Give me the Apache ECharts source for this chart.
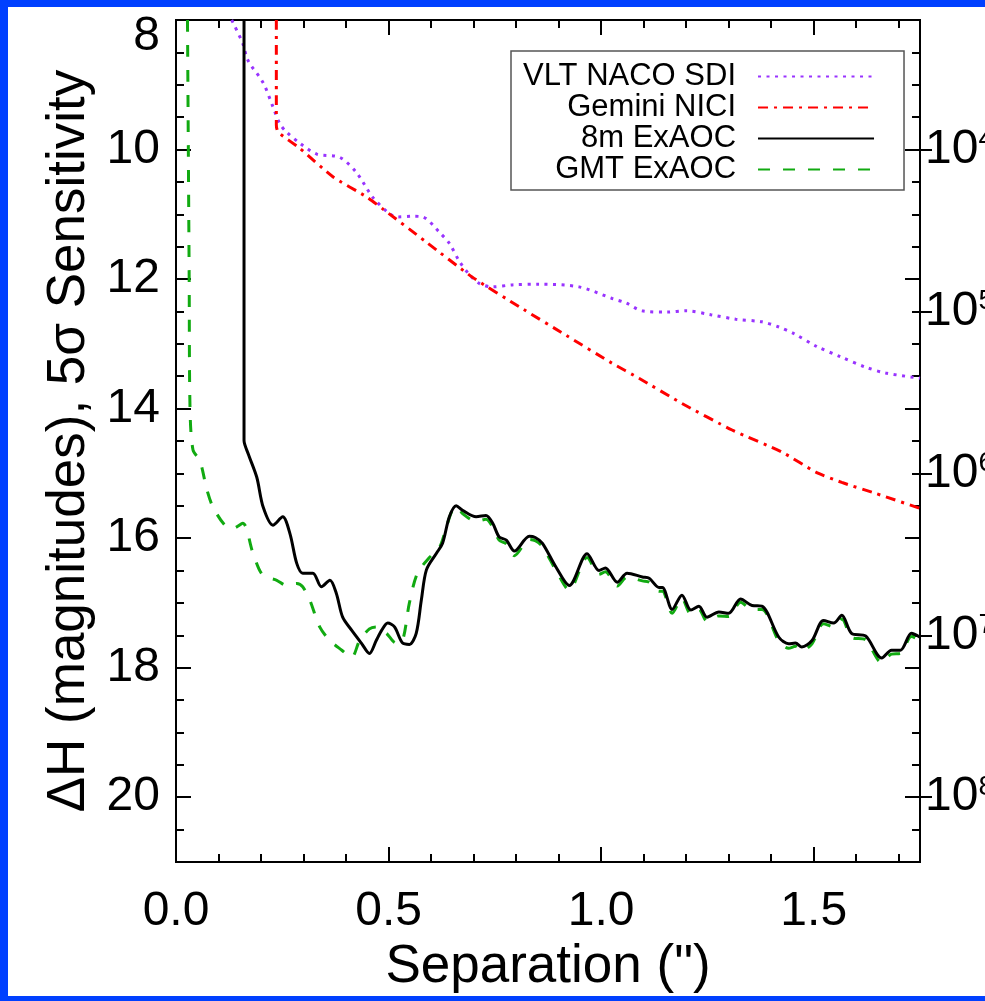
<!DOCTYPE html>
<html lang="en">
<head>
    <meta charset="UTF-8">
    <title>Contrast curves</title>
    <script src="https://cdn.jsdelivr.net/npm/echarts@6/dist/echarts.min.js"></script>
    <style>
        html, body { margin: 0; background: #fff; overflow: hidden; }
        body { width: 985px; height: 1001px; position: relative; }
        #main { position: absolute; left: 8px; top: 7px; width: 990px; height: 989px; background: #fff; }
        .edge { position: absolute; background: #0040ff; }
    </style>
</head>
<body>
<div id="main"></div>
<div class="edge" style="left:0;top:0;width:1000px;height:7px;"></div>
<div class="edge" style="left:0;top:0;width:8px;height:1001px;"></div>
<div class="edge" style="left:0;top:996px;width:1000px;height:5px;"></div>
<script>
    // separation in arcsec, delta H in magnitudes
    const nacoX = [0.131, 0.157, 0.169, 0.205, 0.228, 0.244, 0.260, 0.291, 0.331, 0.385, 0.425, 0.462, 0.502, 0.521, 0.556, 0.580, 0.620, 0.643, 0.667, 0.690, 0.714, 0.744, 0.791, 0.854, 0.948, 1.026, 1.059, 1.096, 1.155, 1.200, 1.258, 1.317, 1.378, 1.418, 1.453, 1.507, 1.563, 1.622, 1.669, 1.750];
    const nacoY = [8.00, 8.36, 8.62, 8.97, 9.34, 9.60, 9.73, 9.90, 10.07, 10.12, 10.36, 10.73, 10.99, 11.04, 11.03, 11.04, 11.28, 11.45, 11.73, 11.93, 12.07, 12.12, 12.09, 12.08, 12.12, 12.30, 12.37, 12.49, 12.51, 12.49, 12.55, 12.62, 12.66, 12.74, 12.84, 13.04, 13.20, 13.36, 13.45, 13.53];

    const niciX = [0.236, 0.236, 0.240, 0.291, 0.369, 0.448, 0.487, 0.589, 0.697, 0.808, 0.918, 1.026, 1.089, 1.190, 1.308, 1.425, 1.505, 1.566, 1.646, 1.750];
    const niciY = [8.00, 9.62, 9.73, 9.98, 10.42, 10.73, 10.92, 11.43, 11.97, 12.43, 12.87, 13.30, 13.53, 13.92, 14.33, 14.67, 14.98, 15.14, 15.31, 15.54];

    const exaocX = [0.160, 0.160, 0.170, 0.190, 0.205, 0.228, 0.251, 0.268, 0.284, 0.298, 0.322, 0.342, 0.362, 0.377, 0.392, 0.413, 0.436, 0.455, 0.471, 0.484, 0.498, 0.514, 0.533, 0.549, 0.565, 0.577, 0.589, 0.613, 0.627, 0.643, 0.659, 0.674, 0.706, 0.729, 0.745, 0.760, 0.777, 0.796, 0.831, 0.845, 0.862, 0.894, 0.925, 0.967, 0.995, 1.010, 1.038, 1.061, 1.097, 1.113, 1.136, 1.144, 1.167, 1.190, 1.211, 1.230, 1.249, 1.277, 1.300, 1.328, 1.355, 1.378, 1.418, 1.441, 1.457, 1.472, 1.496, 1.523, 1.547, 1.566, 1.589, 1.622, 1.660, 1.683, 1.704, 1.730, 1.750];
    const exaocY = [8.00, 14.49, 14.70, 15.06, 15.52, 15.80, 15.67, 15.93, 16.39, 16.54, 16.54, 16.75, 16.65, 16.85, 17.22, 17.42, 17.62, 17.78, 17.58, 17.42, 17.31, 17.37, 17.62, 17.64, 17.47, 16.96, 16.49, 16.23, 16.08, 15.67, 15.50, 15.57, 15.67, 15.65, 15.77, 15.98, 16.03, 16.20, 15.97, 15.99, 16.08, 16.45, 16.73, 16.24, 16.50, 16.46, 16.68, 16.54, 16.60, 16.62, 16.76, 16.76, 17.10, 16.88, 17.11, 17.05, 17.22, 17.14, 17.16, 16.94, 17.04, 17.05, 17.53, 17.63, 17.62, 17.68, 17.58, 17.27, 17.31, 17.19, 17.47, 17.51, 17.85, 17.73, 17.73, 17.47, 17.53];

    const gmtX = [0.027, 0.029, 0.031, 0.033, 0.040, 0.056, 0.073, 0.087, 0.115, 0.134, 0.157, 0.181, 0.204, 0.237, 0.260, 0.284, 0.298, 0.315, 0.338, 0.362, 0.390, 0.413, 0.432, 0.455, 0.471, 0.495, 0.518, 0.533, 0.549, 0.568, 0.596, 0.620, 0.636, 0.650, 0.662, 0.674, 0.706, 0.729, 0.745, 0.760, 0.777, 0.796, 0.831, 0.845, 0.862, 0.894, 0.925, 0.967, 0.995, 1.010, 1.038, 1.061, 1.097, 1.113, 1.136, 1.144, 1.167, 1.190, 1.211, 1.230, 1.249, 1.277, 1.300, 1.328, 1.355, 1.378, 1.418, 1.441, 1.457, 1.472, 1.496, 1.523, 1.547, 1.566, 1.589, 1.622, 1.660, 1.683, 1.704, 1.730, 1.750];
    const gmtY = [8.00, 10.00, 12.00, 14.00, 14.64, 14.80, 15.26, 15.52, 15.80, 15.85, 15.77, 16.23, 16.57, 16.65, 16.73, 16.70, 16.75, 16.96, 17.37, 17.58, 17.73, 17.84, 17.58, 17.40, 17.37, 17.47, 17.62, 17.58, 17.00, 16.54, 16.30, 16.14, 15.83, 15.57, 15.52, 15.62, 15.74, 15.71, 15.83, 16.03, 16.09, 16.27, 16.02, 16.04, 16.13, 16.50, 16.80, 16.30, 16.56, 16.52, 16.74, 16.60, 16.66, 16.68, 16.82, 16.82, 17.16, 16.93, 17.17, 17.10, 17.28, 17.20, 17.21, 16.99, 17.10, 17.10, 17.59, 17.70, 17.67, 17.74, 17.63, 17.32, 17.37, 17.25, 17.53, 17.57, 17.92, 17.79, 17.78, 17.52, 17.58];

    // axes
    const xMajor = [0, 0.5, 1.0, 1.5];
    const xMinor = [0.1, 0.2, 0.3, 0.4, 0.6, 0.7, 0.8, 0.9, 1.1, 1.2, 1.3, 1.4, 1.6, 1.7];
    const yMajor = [8, 10, 12, 14, 16, 18, 20];
    const yMinor = [8.5, 9, 9.5, 10.5, 11, 11.5, 12.5, 13, 13.5, 14.5, 15, 15.5, 16.5, 17, 17.5, 18.5, 19, 19.5, 20.5];
    const contrastMag = [10, 12.5, 15, 17.5, 20];
    const contrastExp = ['4', '5', '6', '7', '8'];

    const FONT = 'Liberation Sans';

    function zip(xs, ys) {
        return xs.map((x, i) => [x, ys[i]]);
    }

    function xAx(pos, ticks, len, label) {
        return {
            type: 'value', position: pos, min: 0, max: 1.75,
            axisLine: {show: true, onZero: false, lineStyle: {color: '#000', width: 2}},
            axisTick: {show: true, inside: true, length: len, customValues: ticks, lineStyle: {color: '#000', width: 2}},
            axisLabel: label ? {
                show: true, customValues: xMajor, margin: 26, fontSize: 48, fontFamily: FONT, color: '#000',
                formatter: v => v.toFixed(1)
            } : {show: false},
            splitLine: {show: false}
        };
    }

    function yAx(pos, ticks, len, inside) {
        return {
            type: 'value', position: pos, min: 8, max: 21, inverse: true,
            axisLine: {show: true, onZero: false, lineStyle: {color: '#000', width: 2}},
            axisTick: {show: true, inside: inside, length: len, customValues: ticks, lineStyle: {color: '#000', width: 2}},
            axisLabel: {show: false},
            splitLine: {show: false}
        };
    }

    const chart = echarts.init(document.getElementById('main'));

    const xMain = xAx('bottom', xMajor, 15, true);
    xMain.name = 'Separation (")';
    xMain.nameLocation = 'middle';
    xMain.nameGap = 33;
    xMain.nameTextStyle = {fontSize: 53, fontFamily: FONT, color: '#000'};

    const yMain = yAx('left', yMajor, 15, true);
    yMain.axisLabel = {
        show: true, customValues: yMajor, margin: 16, fontSize: 48, fontFamily: FONT, color: '#000',
        formatter: v => v === 8 ? '{t|8}' : String(v),
        rich: {t: {fontSize: 48, fontFamily: FONT, color: '#000', padding: [34, 0, 0, 0]}}
    };
    yMain.name = 'ΔH (magnitudes), 5σ Sensitivity';
    yMain.nameLocation = 'middle';
    yMain.nameGap = 56;
    yMain.nameTextStyle = {fontSize: 53, fontFamily: FONT, color: '#000'};

    const yContrast = yAx('right', contrastMag, 12, false);
    yContrast.axisLabel = {
        show: true, customValues: contrastMag, margin: 5, fontSize: 48, fontFamily: FONT, color: '#000',
        formatter: v => '10{s|' + contrastExp[contrastMag.indexOf(v)] + '}',
        rich: {s: {fontSize: 28, fontFamily: FONT, color: '#000', verticalAlign: 'top', padding: [0, 0, 20, 0]}}
    };

    chart.setOption({
        animation: false,
        backgroundColor: '#fff',
        grid: {left: 168, top: 13, width: 744, height: 842, outerBoundsMode: 'none', containLabel: false},
        legend: {
            orient: 'vertical',
            left: 503, top: 44,
            align: 'right',
            padding: [10, 29, 5, 12],
            itemGap: 0,
            itemWidth: 116,
            itemHeight: 14,
            backgroundColor: '#fff',
            borderColor: '#555',
            borderWidth: 1.5,
            borderRadius: 0,
            itemStyle: {opacity: 0},
            textStyle: {fontSize: 31, fontFamily: FONT, color: '#000', padding: [0, 17, 0, 0], lineHeight: 30},
            data: ['VLT NACO SDI', 'Gemini NICI', '8m ExAOC', 'GMT ExAOC']
        },
        xAxis: [
            xMain,
            xAx('bottom', xMinor, 8, false),
            xAx('top', xMajor, 15, false),
            xAx('top', xMinor, 8, false)
        ],
        yAxis: [
            yMain,
            yAx('left', yMinor, 8, true),
            yAx('right', yMajor, 15, true),
            yAx('right', yMinor, 8, true),
            yContrast
        ],
        series: [
            {
                name: 'VLT NACO SDI', type: 'line', data: zip(nacoX, nacoY), smooth: 0.3,
                symbol: 'none', z: 3,
                lineStyle: {color: '#9933ff', width: 3, type: [3, 5.5]}, itemStyle: {color: '#9933ff'}
            },
            {
                name: 'Gemini NICI', type: 'line', data: zip(niciX, niciY), smooth: 0.2,
                symbol: 'none', z: 3,
                lineStyle: {color: '#ff0000', width: 3, type: [10, 6, 3, 6]}, itemStyle: {color: '#ff0000'}
            },
            {
                name: '8m ExAOC', type: 'line', data: zip(exaocX, exaocY), smooth: 0.3,
                symbol: 'none', z: 4,
                lineStyle: {color: '#000', width: 3}, itemStyle: {color: '#000'}
            },
            {
                name: 'GMT ExAOC', type: 'line', data: zip(gmtX, gmtY), smooth: 0.3,
                symbol: 'none', z: 3,
                lineStyle: {color: '#11aa11', width: 3, type: [12, 13]}, itemStyle: {color: '#11aa11'}
            }
        ]
    });
</script>
</body>
</html>
